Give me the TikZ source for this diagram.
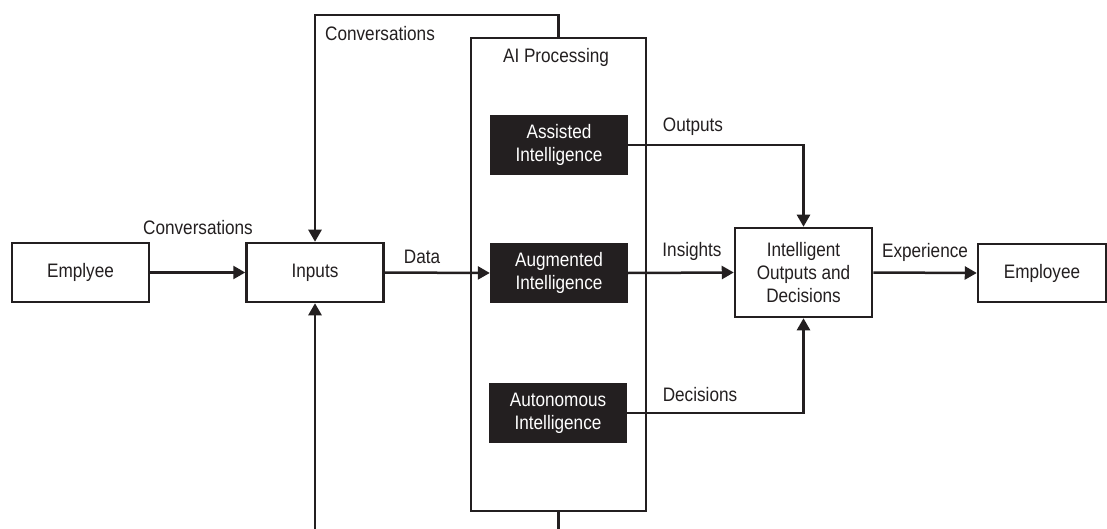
\documentclass[tikz,border=0pt]{standalone}
\usepackage{fontspec}
\setmainfont{Liberation Sans}[FakeStretch=0.88]
\usetikzlibrary{arrows.meta}
\definecolor{ink}{HTML}{231F20}
\tikzset{
  every node/.style={font=\fontsize{19.5}{23}\selectfont, text=ink},
  wbox/.style={draw=ink, line width=2.5pt, fill=white, align=center, inner sep=0pt},
  bbox/.style={fill=ink, text=white, align=center, inner sep=0pt, minimum width=138pt, minimum height=60pt},
  conn/.style={draw=ink, line width=2.5pt},
  arr/.style={conn, -{Triangle[length=12pt,width=13pt]}},
  lbl/.style={inner sep=0pt}
}
\begin{document}
\begin{tikzpicture}[x=1pt,y=-1pt]
\useasboundingbox (0,0) rectangle (1107,529);
% big processing box
\node[wbox, minimum width=175pt, minimum height=473pt, fill=none] (aiproc) at (558.5,274.5) {};
\node[lbl] (ailbl) at (556,57) {AI Processing};
% boxes
\node[wbox, minimum width=137pt, minimum height=59pt] (emp1) at (80.5,272.5) {Emplyee};
\node[wbox, minimum width=137pt, minimum height=59pt] (inputs) at (315,272.5) {Inputs};
\node[bbox] (assisted) at (559,145) {Assisted\\Intelligence};
\node[bbox] (augmented) at (559,273) {Augmented\\Intelligence};
\node[bbox] (autonomous) at (558,413) {Autonomous\\Intelligence};
\node[wbox, minimum width=137pt, minimum height=89pt] (intel) at (803.5,272.5) {Intelligent\\Outputs and\\Decisions};
\node[wbox, minimum width=128pt, minimum height=58pt] (emp2) at (1042,273) {Employee};
% coordinates for free ends
\coordinate (ttop) at (558.5,15);
\coordinate (bot1) at (558.5,540);
\coordinate (bot2) at (315,540);
% connectors
\draw[arr] (emp1.east) -- (inputs.west);
\draw[arr] (inputs.east) -- (augmented.west);
\draw[arr] (aiproc.north) -- (ttop) -| (inputs.north);
\draw[conn] (aiproc.south) -- (bot1);
\draw[arr] (bot2) -- (inputs.south);
\draw[arr] (assisted.east) -| (intel.north);
\draw[arr] (augmented.east) -- (intel.west);
\draw[arr] (autonomous.east) -| (intel.south);
\draw[arr] (intel.east) -- (emp2.west);
% labels
\node[lbl] (l1) at (198,228) {Conversations};
\node[lbl] (l2) at (380,34) {Conversations};
\node[lbl] (l3) at (422,257) {Data};
\node[lbl] (l4) at (693,127) {Outputs};
\node[lbl] (l5) at (692,251) {Insights};
\node[lbl] (l6) at (700,395) {Decisions};
\node[lbl] (l7) at (925,252) {Experience};
\end{tikzpicture}
\end{document}
